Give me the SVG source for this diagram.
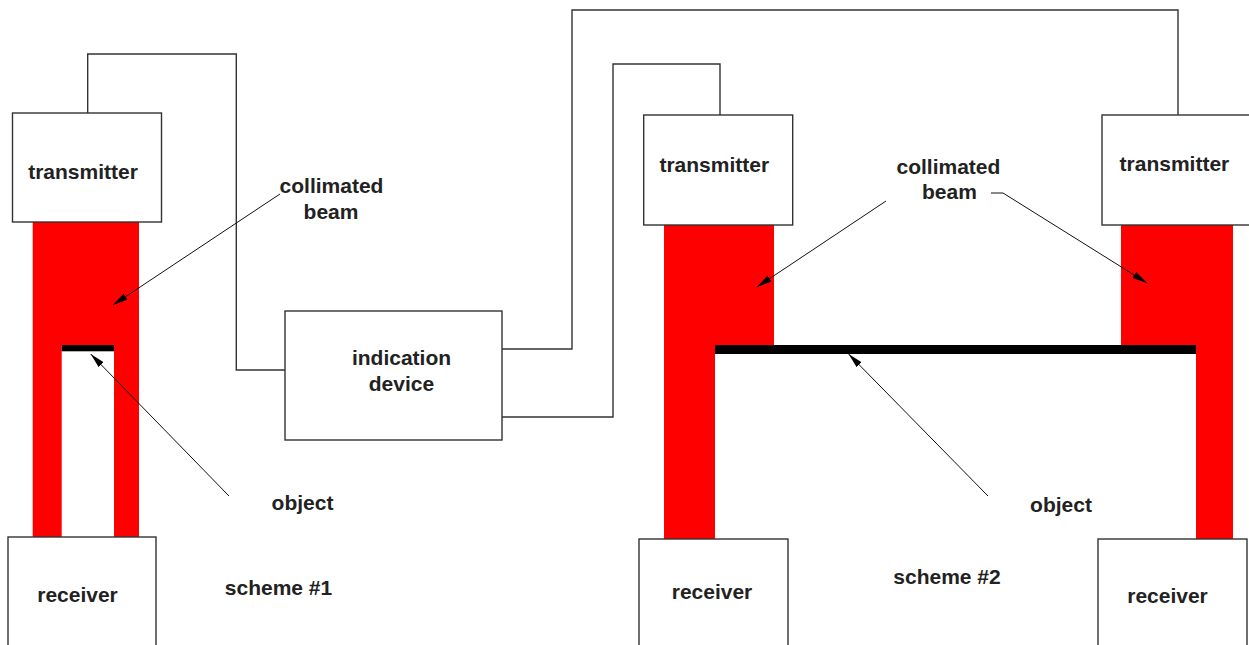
<svg xmlns="http://www.w3.org/2000/svg" width="1249" height="645" viewBox="0 0 1249 645">
<style>
.box{fill:#fff;stroke:#333;stroke-width:1.4}
.wire{fill:none;stroke:#333;stroke-width:1.4}
.beam{fill:#ff0000;stroke:none}
.obj{fill:#000}
.ptr{fill:none;stroke:#111;stroke-width:1}
text{font-family:"Liberation Sans",Arial,sans-serif;font-weight:bold;font-size:21px;fill:#222;text-anchor:middle}
</style>
<defs>
<marker id="ah" markerUnits="userSpaceOnUse" markerWidth="16" markerHeight="8" refX="15" refY="3.5" orient="auto">
<path d="M0,0 L15,3.5 L0,7 Z" fill="#000"/>
</marker>
</defs>
<rect width="1249" height="645" fill="#fff"/>
<g id="beams">
<path class="beam" d="M32.7,221.7 H139 V537 H114 V345 H61.7 V537 H32.7 Z"/>
<rect class="obj" x="61.7" y="345" width="52.3" height="6.3"/>
<path class="beam" d="M664,225 H774 V345 H715 V539 H664 Z"/>
<path class="beam" d="M1121,225 H1233 V539 H1196 V345 H1121 Z"/>
<rect class="obj" x="715" y="345" width="481" height="9"/>
</g>
<g id="connectors">
<path class="wire" d="M87.7,113 V54 H236.3 V370 H285"/>
<path class="wire" d="M502,349 H572 V10 H1178 V115"/>
<path class="wire" d="M502,417 H613 V64 H720 V115"/>
<path class="ptr" d="M280,194 L113,305" marker-end="url(#ah)"/>
<path class="ptr" d="M229,496 L90.7,354" marker-end="url(#ah)"/>
<path class="ptr" d="M886,201 L757,287" marker-end="url(#ah)"/>
<path class="ptr" d="M991,193 H1003 L1147,283" marker-end="url(#ah)"/>
<path class="ptr" d="M988,496 L848.6,354" marker-end="url(#ah)"/>
</g>
<g id="transmitter1"><rect class="box" x="12.5" y="113" width="149" height="109"/><text x="83" y="179">transmitter</text></g>
<g id="receiver1"><rect class="box" x="8" y="537" width="148" height="115"/><text x="77.5" y="602">receiver</text></g>
<g id="indication"><rect class="box" x="285" y="311" width="217" height="129"/><text x="401.5" y="365">indication</text><text x="401.5" y="391">device</text></g>
<g id="transmitter2"><rect class="box" x="643.7" y="115" width="149" height="110"/><text x="714.3" y="172">transmitter</text></g>
<g id="transmitter3"><rect class="box" x="1102" y="115" width="152" height="110"/><text x="1174.4" y="171">transmitter</text></g>
<g id="receiver2"><rect class="box" x="639" y="539" width="149" height="115"/><text x="712" y="599">receiver</text></g>
<g id="receiver3"><rect class="box" x="1098" y="539" width="149" height="115"/><text x="1167.5" y="603">receiver</text></g>
<g id="labels">
<text x="331.5" y="193">collimated</text>
<text x="331" y="219">beam</text>
<text x="302.5" y="510">object</text>
<text x="278.5" y="595">scheme #1</text>
<text x="948.4" y="174">collimated</text>
<text x="949.4" y="199">beam</text>
<text x="1061" y="512">object</text>
<text x="947" y="584">scheme #2</text>
</g>
</svg>
